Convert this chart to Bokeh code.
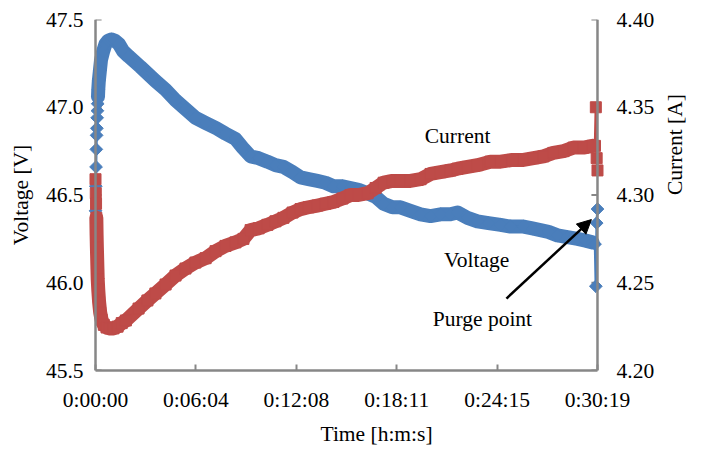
import math
from bokeh.plotting import figure
from bokeh.models import (Range1d, LinearAxis, FixedTicker, Label, Arrow, NormalHead,
                          Span, Title)
from bokeh.embed import file_html
from bokeh.resources import INLINE

# ---------------- data ----------------
# time in seconds since start
volt_t = [0, 1, 2, 3, 4, 5, 6, 7, 8, 9, 10, 12, 16, 20, 28, 36, 46, 58, 70, 85, 100,
          120, 163, 217, 254, 290, 326, 362, 399, 438, 471, 507, 533, 562, 591, 623, 652,
          681, 714, 743, 772, 804, 833, 862, 895, 924, 953, 986, 1015, 1044, 1076, 1105,
          1141, 1178, 1214, 1250, 1286, 1312, 1348, 1384, 1424, 1468, 1504, 1551, 1583,
          1612, 1641, 1674, 1710, 1747, 1776, 1801, 1810, 1813, 1816, 1819]
voltage = [46.41, 46.55, 46.66, 46.76, 46.84, 46.88, 46.94, 46.98, 47.02, 47.06, 47.10,
           47.15, 47.21, 47.27, 47.32, 47.36, 47.38, 47.386, 47.38, 47.36, 47.32,
           47.29, 47.23, 47.15, 47.10, 47.04, 46.99, 46.94, 46.91, 46.88, 46.85,
           46.82, 46.77, 46.72, 46.71, 46.69, 46.67, 46.66, 46.63, 46.60, 46.59,
           46.58, 46.57, 46.55, 46.55, 46.54, 46.53, 46.51, 46.49, 46.45, 46.43,
           46.43, 46.41, 46.39, 46.38, 46.39, 46.39, 46.40, 46.37, 46.35, 46.34,
           46.33, 46.32, 46.32, 46.31, 46.30, 46.29, 46.27, 46.26, 46.25, 46.24,
           46.23, 46.22, 45.98, 46.34, 46.42]

curr_t = [0, 1, 2, 3, 4, 5, 6, 7, 8, 10, 13, 17, 22, 30, 40, 52, 65, 80, 95, 110,
          156, 188, 217, 254, 290, 326, 362, 399, 435, 471, 507, 536, 562, 591, 623,
          652, 681, 714, 743, 772, 804, 833, 862, 895, 924, 953, 986, 1015, 1044, 1076,
          1105, 1141, 1178, 1214, 1250, 1286, 1312, 1348, 1384, 1431, 1468, 1511, 1551,
          1587, 1623, 1659, 1696, 1732, 1768, 1801, 1810, 1813, 1816, 1819]
current = [4.309, 4.301, 4.295, 4.287, 4.277, 4.270, 4.264, 4.258, 4.252, 4.246,
           4.239, 4.233, 4.229, 4.226, 4.2245, 4.224, 4.224, 4.225, 4.227, 4.2285,
           4.2353, 4.2399, 4.2439, 4.2490, 4.2541, 4.2581, 4.2615, 4.264, 4.268, 4.271,
           4.273, 4.275, 4.280, 4.281, 4.283, 4.285, 4.287, 4.290, 4.292, 4.293,
           4.294, 4.295, 4.296, 4.298, 4.300, 4.300, 4.301, 4.304, 4.307, 4.308,
           4.308, 4.308, 4.309, 4.312, 4.313, 4.314, 4.315, 4.316, 4.317, 4.319,
           4.319, 4.320, 4.320, 4.321, 4.322, 4.324, 4.325, 4.327, 4.327, 4.328,
           4.328, 4.350, 4.321, 4.314]

time_ticks = [0, 363.8, 727.6, 1091.4, 1455.2, 1819]
time_labels = ["0:00:00", "0:06:04", "0:12:08", "0:18:11", "0:24:15", "0:30:19"]
volt_ticks = [45.5, 46.0, 46.5, 47.0, 47.5]
volt_labels = ["45.5", "46.0", "46.5", "47.0", "47.5"]
curr_ticks = [4.20, 4.25, 4.30, 4.35, 4.40]
curr_labels = ["4.20", "4.25", "4.30", "4.35", "4.40"]

T_END = 1819
PAD_L = 25.4   # room (s) so the edge markers are not cut by the frame
PAD_R = 54.4
TICK = 22      # inward tick length in seconds (about 6 px)
BLUE = "#4A7EBB"
RED = "#BE4B48"
AXIS = "#878787"
FONT = "Liberation Serif"
FS = "21.5px"

# ---------------- figure ----------------
p = figure(width=702, height=455, output_backend="svg", toolbar_location=None,
           x_range=Range1d(-PAD_L, T_END + PAD_R), y_range=Range1d(45.5, 47.5),
           min_border_left=88, min_border_right=90, min_border_top=19,
           min_border_bottom=85, x_axis_location=None, y_axis_location=None)
p.extra_y_ranges = {"cur": Range1d(4.20, 4.40)}
p.grid.visible = False
p.outline_line_color = None


def text_style(ax, standoff):
    ax.major_label_text_font = FONT
    ax.major_label_text_font_size = FS
    ax.major_label_text_color = "black"
    ax.major_label_standoff = standoff
    ax.axis_label_text_font = FONT
    ax.axis_label_text_font_size = FS
    ax.axis_label_text_font_style = "normal"
    ax.axis_label_text_color = "black"
    ax.minor_tick_line_color = None


# bottom axis (frame bottom is exactly 45.5 V)
xaxis = LinearAxis(ticker=FixedTicker(ticks=time_ticks),
                   major_label_overrides=dict(zip(time_ticks, time_labels)),
                   bounds=(0, T_END))
xaxis.axis_line_color = AXIS
xaxis.axis_line_width = 2.5
xaxis.major_tick_line_color = AXIS
xaxis.major_tick_line_width = 2
xaxis.major_tick_in = 6
xaxis.major_tick_out = 0
text_style(xaxis, 17)
p.add_layout(xaxis, "below")

p.add_layout(Title(text="Time [h:m:s]", align="left", offset=232,
                   text_font=FONT, text_font_size=FS, text_font_style="normal",
                   text_color="black", standoff=11), "below")

# left / right label axes (rules drawn at t = 0 and t = end below)
yl = LinearAxis(ticker=FixedTicker(ticks=volt_ticks),
                major_label_overrides=dict(zip(volt_ticks, volt_labels)),
                axis_label="Voltage [V]")
yl.axis_line_color = None
yl.major_tick_line_color = None
yl.major_tick_in = 0
yl.major_tick_out = 0
text_style(yl, 5)
yl.axis_label_standoff = 10
p.add_layout(yl, "left")

yr = LinearAxis(y_range_name="cur", ticker=FixedTicker(ticks=curr_ticks),
                major_label_overrides=dict(zip(curr_ticks, curr_labels)),
                axis_label="Current [A]")
yr.axis_line_color = None
yr.major_tick_line_color = None
yr.major_tick_in = 0
yr.major_tick_out = 0
text_style(yr, 4)
yr.axis_label_standoff = 18
yr.axis_label_orientation = math.pi / 2
p.add_layout(yr, "right")

# axis rules and inward ticks
p.add_layout(Span(location=0, dimension="height", line_color=AXIS, line_width=2.5))
p.add_layout(Span(location=T_END, dimension="height", line_color=AXIS,
                  line_width=2.5))
p.segment(x0=[0] * len(volt_ticks), y0=volt_ticks, x1=[TICK] * len(volt_ticks),
          y1=volt_ticks, line_color=AXIS, line_width=2)
p.segment(x0=[T_END] * len(curr_ticks), y0=curr_ticks,
          x1=[T_END - TICK] * len(curr_ticks), y1=curr_ticks, line_color=AXIS,
          line_width=2, y_range_name="cur")

# ---------------- series ----------------
vb = [(t, v) for t, v in zip(volt_t, voltage) if 9 <= t <= 1801]
cb = [(t, c) for t, c in zip(curr_t, current) if 3 <= t <= 1801]

# voltage
p.line([a for a, _ in vb], [b for _, b in vb], line_width=14, color=BLUE,
       line_join="round", line_cap="round")
p.line(volt_t, voltage, line_width=2.5, color=BLUE)
p.scatter(volt_t, voltage, marker="square", angle=math.pi / 4, size=9,
          color=BLUE)

# current
p.line([a for a, _ in cb], [b for _, b in cb], line_width=14, color=RED,
       line_join="round", line_cap="round", y_range_name="cur")
p.line(curr_t, current, line_width=2.5, color=RED, y_range_name="cur")
p.scatter(curr_t, current, marker="square", size=11, color=RED,
          y_range_name="cur")

# ---------------- annotations ----------------
for txt, x, y in [("Current", 1312, 46.839), ("Voltage", 1381, 46.132),
                  ("Purge point", 1402, 45.796)]:
    p.add_layout(Label(x=x, y=y, text=txt, text_font=FONT, text_font_size=FS,
                       text_align="center", text_baseline="alphabetic",
                       text_color="black"))

p.add_layout(Arrow(end=NormalHead(size=14, fill_color="black", line_color="black"),
                   x_start=1489, y_start=45.91, x_end=1797, y_end=46.36,
                   line_width=2.5, line_color="black"))

open("out.html", "w").write(file_html(p, INLINE))
